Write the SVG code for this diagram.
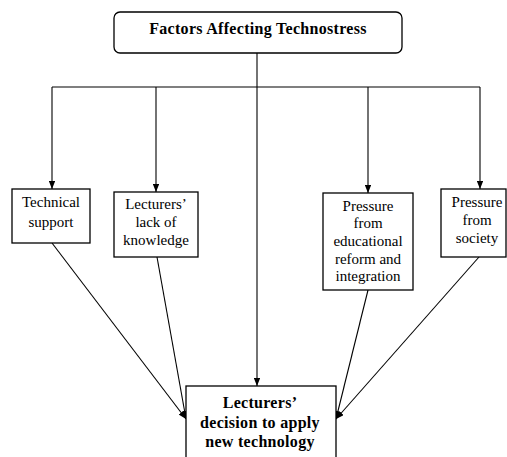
<svg xmlns="http://www.w3.org/2000/svg" width="507" height="457" viewBox="0 0 507 457">
<style>
.box{fill:#fff;stroke:#000;stroke-width:1.3}
.t{font-family:"Liberation Serif","Times New Roman",serif;font-size:15px;fill:#000;text-anchor:middle}
.b{font-weight:bold;font-size:16px;letter-spacing:0.3px}
.ln{stroke:#000;stroke-width:1.1;fill:none}
.ar{stroke:#000;stroke-width:1.1;fill:none;marker-end:url(#ah)}
</style>
<defs>
<marker id="ah" viewBox="0 0 10 8" refX="10" refY="4" markerWidth="8" markerHeight="6.5" markerUnits="userSpaceOnUse" orient="auto">
<path d="M0,0 L10,4 L0,8 Z" fill="#000"/>
</marker>
</defs>
<rect width="507" height="457" fill="#fff"/>
<g id="connectors">
<line class="ln" x1="257" y1="53" x2="257" y2="87"/>
<line class="ln" x1="52" y1="87" x2="480" y2="87"/>
<line class="ar" x1="52" y1="87" x2="52" y2="189"/>
<line class="ar" x1="156" y1="87" x2="156" y2="192"/>
<line class="ar" x1="257" y1="87" x2="257" y2="386"/>
<line class="ar" x1="368" y1="87" x2="368" y2="193"/>
<line class="ar" x1="480" y1="87" x2="480" y2="189"/>
<line class="ar" x1="52" y1="243" x2="186" y2="419"/>
<line class="ar" x1="157" y1="257" x2="186" y2="419"/>
<line class="ar" x1="368" y1="290" x2="336" y2="419"/>
<line class="ar" x1="479" y1="257" x2="336" y2="419"/>
</g>
<g id="top">
<rect class="box" x="114" y="12" width="288" height="41" rx="6"/>
<text class="t b" x="258" y="34">Factors Affecting Technostress</text>
</g>
<g id="technical">
<rect class="box" x="12" y="189" width="78" height="54"/>
<text class="t" x="51" y="207">Technical</text>
<text class="t" x="51" y="227">support</text>
</g>
<g id="lack">
<rect class="box" x="114" y="192" width="84" height="65"/>
<text class="t" x="156" y="209">Lecturers’</text>
<text class="t" x="156" y="227">lack of</text>
<text class="t" x="156" y="245">knowledge</text>
</g>
<g id="educational">
<rect class="box" x="323" y="193" width="90" height="97"/>
<text class="t" x="368" y="211">Pressure</text>
<text class="t" x="368" y="228">from</text>
<text class="t" x="368" y="246">educational</text>
<text class="t" x="368" y="264">reform and</text>
<text class="t" x="368" y="281">integration</text>
</g>
<g id="society">
<rect class="box" x="441" y="189" width="65" height="68"/>
<text class="t" x="477" y="207">Pressure</text>
<text class="t" x="477" y="225">from</text>
<text class="t" x="477" y="243">society</text>
</g>
<g id="decision">
<rect class="box" x="186" y="386" width="150" height="90"/>
<text class="t b" x="260" y="408">Lecturers’</text>
<text class="t b" x="260" y="428">decision to apply</text>
<text class="t b" x="260" y="447">new technology</text>
</g>
</svg>
